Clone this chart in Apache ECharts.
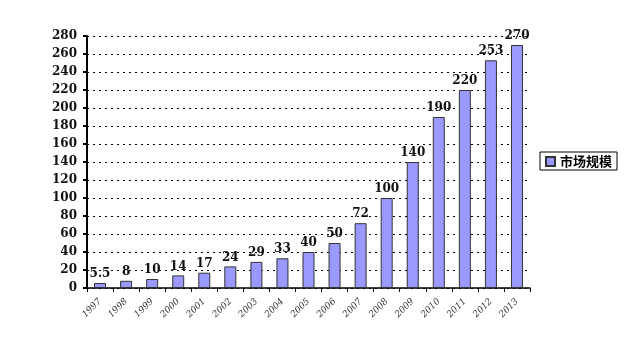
<!DOCTYPE html>
<html><head><meta charset="utf-8">
<script src="https://cdn.jsdelivr.net/npm/echarts@6/dist/echarts.min.js"></script>
<style>html,body{margin:0;padding:0;background:#fff}#c{width:640px;height:338px}</style>
</head><body><div id="c"></div>
<script>
const years = ['1997','1998','1999','2000','2001','2002','2003','2004','2005','2006','2007','2008','2009','2010','2011','2012','2013'];
const marketSize = [5.5,8,10,14,17,24,29,33,40,50,72,100,140,190,220,253,270];
const seriesName = '市场规模';
const yTicks = {min:0, max:280, interval:20};

const chart = echarts.init(document.getElementById('c'));
chart.setOption({
  animation:false,
  backgroundColor:'#fff',
  grid:{left:87, right:110, top:36, bottom:50},
  legend:{
    data:[seriesName], left:540, top:152, orient:'vertical',
    icon:'rect', itemWidth:9, itemHeight:9, itemGap:4,
    padding:[3,5,2,5], borderColor:'#000', borderWidth:1,
    textStyle:{fontFamily:'Noto Sans CJK SC', fontSize:13, fontWeight:'bold', color:'#000'}
  },
  xAxis:{
    type:'category', data:years,
    axisLine:{lineStyle:{color:'#000', width:1.5}},
    axisTick:{show:true, length:4, lineStyle:{color:'#000'}},
    axisLabel:{rotate:45, fontSize:9, fontStyle:'italic', color:'#333', fontFamily:'DejaVu Serif', margin:12}
  },
  yAxis:{
    type:'value', min:yTicks.min, max:yTicks.max, interval:yTicks.interval,
    axisLine:{show:true, lineStyle:{color:'#000', width:2}},
    axisTick:{show:true, length:4, inside:false, lineStyle:{color:'#000', width:2}},
    splitLine:{show:true, lineStyle:{color:'#000', type:[2,4], width:1}},
    axisLabel:{fontSize:12, fontWeight:'bold', color:'#111', fontFamily:'DejaVu Serif', margin:10}
  },
  series:[{
    name:seriesName, type:'bar', data:marketSize, barWidth:12,
    itemStyle:{color:'#9999FF', borderColor:'#333', borderWidth:1},
    label:{show:true, position:'top', distance:3, fontSize:12, fontWeight:'bold', color:'#111', fontFamily:'DejaVu Serif'}
  }]
});
</script></body></html>
